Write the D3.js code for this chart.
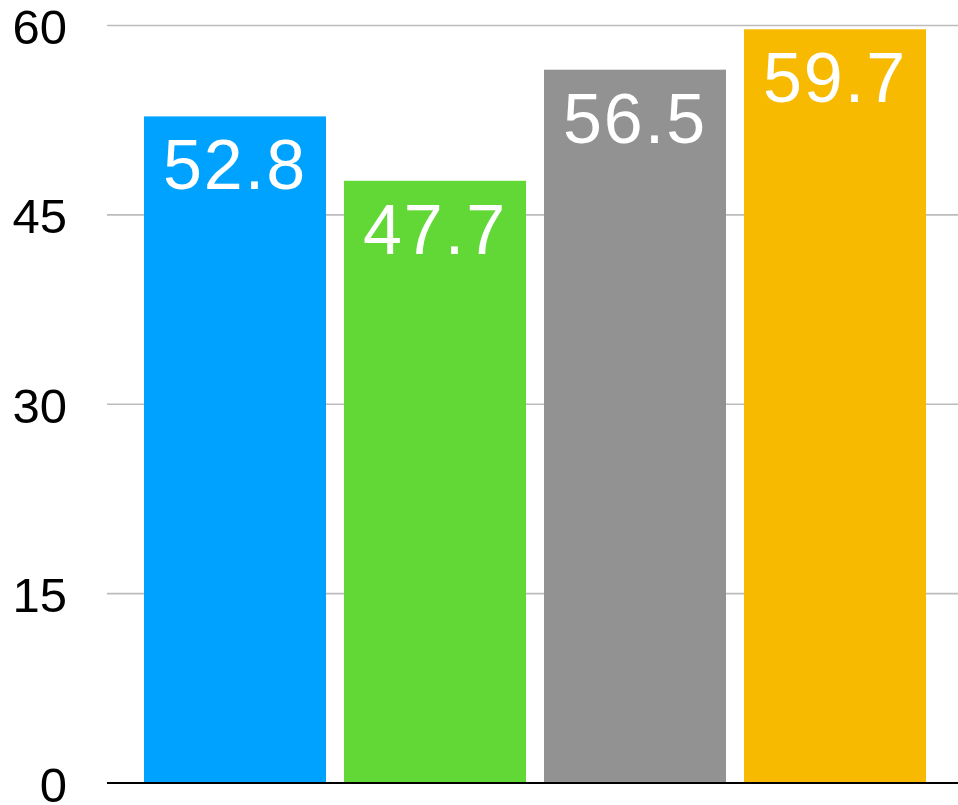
<!DOCTYPE html>
<html>
<head>
<meta charset="utf-8">
<script src="https://cdn.jsdelivr.net/npm/d3@7"></script>
<style>
  body { margin: 0; background: #fff; }
  svg { display: block; }
</style>
</head>
<body>
<div id="canvas"></div>
<script>
const categories = ["A", "B", "C", "D"];
const values = [52.8, 47.7, 56.5, 59.7];
const colors = ["#00A2FF", "#61D836", "#929292", "#F8BA00"];
const yTicks = [0, 15, 30, 45, 60];

const width = 958;
const height = 805;

const svg = d3.select("#canvas").append("svg")
  .attr("width", width)
  .attr("height", height);

const y = d3.scaleLinear()
  .domain([0, 60])
  .range([783, 25.5]);

const x = d3.scaleBand()
  .domain(categories)
  .range([135, 935])
  .paddingInner(0.09)
  .paddingOuter(0.045);

// grid lines
svg.append("g")
  .selectAll("line")
  .data(yTicks.filter(d => d > 0))
  .enter()
  .append("line")
  .attr("x1", 107)
  .attr("x2", width)
  .attr("y1", d => y(d))
  .attr("y2", d => y(d))
  .style("stroke", "#bcbcbc")
  .style("stroke-width", 1.6);

// tick labels
svg.append("g")
  .selectAll("text")
  .data(yTicks)
  .enter()
  .append("text")
  .attr("x", 67)
  .attr("y", d => y(d) + 18.5)
  .attr("text-anchor", "end")
  .style("font-family", "'Liberation Sans', Arial, Helvetica, sans-serif")
  .style("font-size", "49px")
  .style("fill", "#000")
  .text(d => d);

// bars
svg.append("g")
  .selectAll("rect")
  .data(values)
  .enter()
  .append("rect")
  .attr("x", (d, i) => x(categories[i]))
  .attr("y", d => y(d))
  .attr("width", x.bandwidth())
  .attr("height", d => y(0) - y(d))
  .style("fill", (d, i) => colors[i]);

// value labels
svg.append("g")
  .selectAll("text")
  .data(values)
  .enter()
  .append("text")
  .attr("x", (d, i) => x(categories[i]) + x.bandwidth() / 2)
  .attr("y", d => y(d) + 73)
  .attr("text-anchor", "middle")
  .style("font-family", "'Liberation Sans', Arial, Helvetica, sans-serif")
  .style("font-size", "70px")
  .style("letter-spacing", "2px")
  .style("fill", "#fff")
  .text(d => d.toFixed(1));

// baseline
svg.append("line")
  .attr("x1", 107)
  .attr("x2", width)
  .attr("y1", y(0))
  .attr("y2", y(0))
  .style("stroke", "#000")
  .style("stroke-width", 2);
</script>
</body>
</html>
